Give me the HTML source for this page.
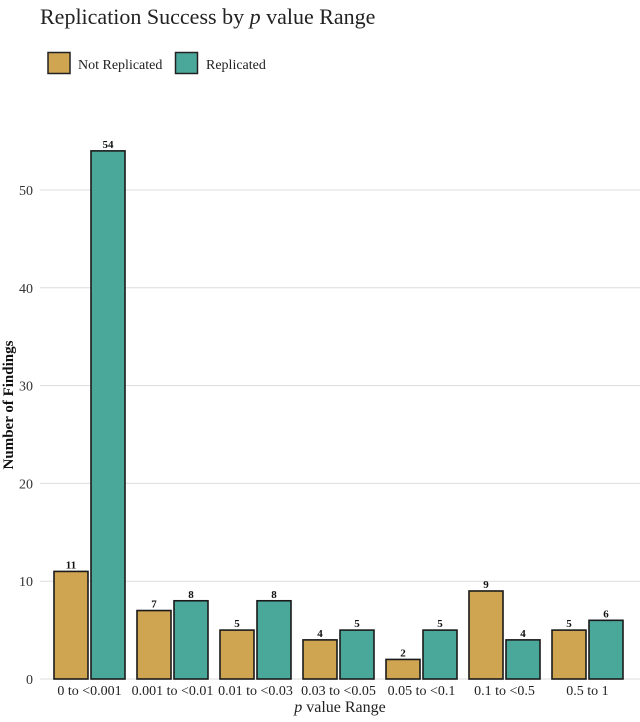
<!DOCTYPE html>
<html><head><meta charset="utf-8"><style>
body{margin:0;background:#fff;}
svg text{font-family:"Liberation Serif",serif;}
</style></head><body>
<svg id="chart" width="640" height="717" viewBox="0 0 640 717">
<text x="40" y="24" font-size="22" fill="#222">Replication Success by <tspan font-style="italic">p</tspan> value Range</text>
<g>
<rect x="48" y="52.5" width="22" height="21" fill="#CFA552" stroke="#222" stroke-width="1.5"/>
<text x="78" y="69" font-size="14" fill="#222">Not Replicated</text>
<rect x="175.5" y="52.5" width="22" height="21" fill="#4AA89B" stroke="#222" stroke-width="1.5"/>
<text x="206" y="69" font-size="14" fill="#222">Replicated</text>
</g>
<g id="grid"></g><g id="bars"></g><g id="labels"></g>
<text transform="translate(13,405) rotate(-90)" text-anchor="middle" font-size="15" font-weight="bold" fill="#111">Number of Findings</text>
<text x="340" y="712" text-anchor="middle" font-size="16" fill="#222"><tspan font-style="italic">p</tspan> value Range</text>
</svg>
<script>
const categories=["0 to <0.001","0.001 to <0.01","0.01 to <0.03","0.03 to <0.05","0.05 to <0.1","0.1 to <0.5","0.5 to 1"];
const notReplicated=[11,7,5,4,2,9,5];
const replicated=[54,8,8,5,5,4,6];
const yTicks=[0,10,20,30,40,50];
const NS="http://www.w3.org/2000/svg";
function y(v){return 679-v*9.78;}
function xc(i){return 48+83*(i+0.5);}
function mk(tag,attrs,parent,txt){const e=document.createElementNS(NS,tag);for(const k in attrs)e.setAttribute(k,attrs[k]);if(txt!==undefined)e.textContent=txt;document.getElementById(parent).appendChild(e);return e;}
yTicks.forEach(t=>{
 const l=mk('line',{x1:40,x2:640,y1:y(t),y2:y(t),stroke:'#ddd','stroke-width':1},'grid');
 
 
 const tx=mk('text',{x:33,y:y(t)+5,'text-anchor':'end','font-size':14,fill:'#333'},'grid',String(t));
 
 
});
categories.forEach((c,i)=>{
 const cx=xc(i);
 [[notReplicated[i],'#CFA552',cx-35.5,'not-replicated'],[replicated[i],'#4AA89B',cx+1.5,'replicated']].forEach(([v,col,x,nm])=>{
  const r=mk('rect',{x:x,y:y(v),width:34,height:679-y(v),fill:col,stroke:'#1a1a1a','stroke-width':1.6},'bars');
  
  
  const t=mk('text',{x:x+17,y:y(v)-3,'text-anchor':'middle','font-size':11,'font-weight':'bold',fill:'#111'},'labels',String(v));
  
  
 });
 const xl=mk('text',{x:cx,y:695,'text-anchor':'middle','font-size':14,fill:'#222'},'labels',c);
 
 
});
</script>
</body></html>
